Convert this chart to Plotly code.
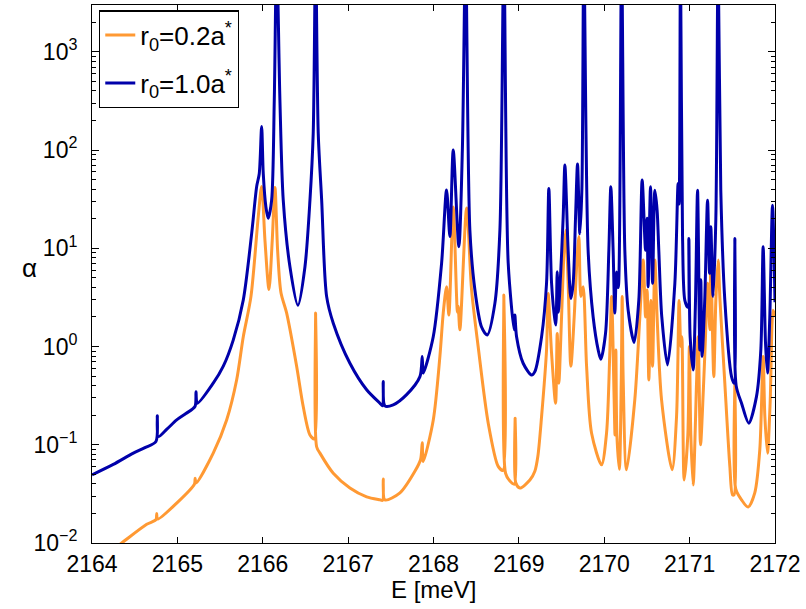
import plotly.graph_objects as go

# ---------------- data ----------------
# r0 = 1.0 a*  (blue)
blue_E = [2164.000, 2164.249, 2164.484, 2164.620, 2164.749, 2164.765, 2164.776, 2164.880, 2164.992, 2165.100,
          2165.206, 2165.218, 2165.233,
          2165.420, 2165.538, 2165.655, 2165.772, 2165.870, 2165.929, 2165.959, 2165.987, 2166.006, 2166.037,
          2166.064, 2166.104, 2166.135, 2166.163, 2166.201, 2166.240, 2166.319, 2166.412, 2166.494, 2166.553,
          2166.591, 2166.619, 2166.650, 2166.690, 2166.748, 2166.826, 2167.021, 2167.217, 2167.372, 2167.404,
          2167.411, 2167.431, 2167.528, 2167.685, 2167.841, 2167.868, 2167.879, 2167.997, 2168.095, 2168.153,
          2168.192, 2168.231, 2168.297, 2168.338, 2168.376, 2168.426, 2168.485, 2168.563, 2168.629, 2168.719,
          2168.778, 2168.824, 2168.875, 2168.945, 2168.953, 2168.973, 2169.050, 2169.149, 2169.187, 2169.266,
          2169.324, 2169.351, 2169.383, 2169.422, 2169.433, 2169.449, 2169.463, 2169.480, 2169.519, 2169.539,
          2169.577, 2169.609, 2169.636, 2169.664, 2169.687, 2169.714, 2169.738, 2169.761, 2169.811, 2169.870,
          2169.929, 2169.960, 2170.015, 2170.054, 2170.077, 2170.104, 2170.124, 2170.144, 2170.165, 2170.203,
          2170.241, 2170.280, 2170.350, 2170.405, 2170.444, 2170.484, 2170.502, 2170.514, 2170.542, 2170.566,
          2170.593, 2170.619, 2170.639, 2170.674, 2170.741, 2170.827, 2170.865, 2170.877, 2170.893, 2170.917,
          2170.944, 2170.979, 2170.991, 2171.006, 2171.041, 2171.067, 2171.093, 2171.119, 2171.131, 2171.146,
          2171.178, 2171.210, 2171.233, 2171.248, 2171.275, 2171.307, 2171.334, 2171.365, 2171.412, 2171.491,
          2171.521, 2171.530, 2171.545, 2171.608, 2171.693, 2171.783, 2171.834, 2171.861, 2171.889, 2171.912,
          2171.939, 2171.971, 2172.000]
blue_alpha = [0.0494, 0.0631, 0.0822, 0.0935, 0.108, 0.197, 0.121, 0.145, 0.179, 0.208,
              0.245, 0.347, 0.265,
              0.424, 0.631, 1.17, 2.98, 14.1, 42.7, 57.5, 174, 57.5, 26.3,
              20.2, 30.9, 324, 1e4, 324, 30.9, 6.46, 2.63, 6.46, 30.9,
              148, 1e4, 148, 30.9, 3.24, 1.73, 0.676, 0.363, 0.265, 0.249,
              0.44, 0.249, 0.255, 0.324, 0.494, 0.794, 0.537, 1.26, 7.08, 39.2,
              13.2, 100, 10.4, 100, 1e4, 15.3, 3.77, 1.58, 1.31, 2.75,
              15.5, 1e4, 7.08, 1.48, 2.09, 1.26, 0.676, 0.513, 0.556, 1.26,
              4.41, 40.7, 4.41, 1.86, 1.66, 5.78, 2.24, 3.77, 20.9, 70.3,
              9.55, 3.09, 4.41, 20.9, 72.1, 14.1, 39.8, 1e4, 9.55, 2.0,
              0.923, 0.741, 1.36, 9.55, 42.4, 9.55, 2.19, 5.75, 3.98, 1e4,
              9.55, 2.35, 1.10, 2.98, 49.5, 9.55, 20.2, 4.07, 42.4, 4.41,
              38.9, 24.5, 9.55, 2.0, 0.65, 4.41, 45.7, 28.2, 1e4, 13.2,
              2.95, 2.51, 12.6, 1.26, 0.578, 2.51, 38.9, 0.923, 4.79, 0.794,
              3.16, 30.9, 5.56, 16.6, 3.24, 20.0, 1e4, 38.9, 2.98, 0.494,
              0.424, 12.6, 0.40, 0.265, 0.166, 0.309, 0.923, 10.4, 1.08, 0.537,
              2.0, 27.5, 2.82]

# r0 = 0.2 a*  (orange)
orange_E = [2164.000, 2164.348, 2164.641, 2164.749, 2164.758, 2164.767, 2164.992, 2165.200, 2165.208, 2165.218,
            2165.420, 2165.577, 2165.694, 2165.772, 2165.862, 2165.947, 2165.987, 2166.026, 2166.073, 2166.111,
            2166.143, 2166.174, 2166.213, 2166.280, 2166.397, 2166.474, 2166.553, 2166.605, 2166.619, 2166.631,
            2166.670, 2166.826, 2167.021, 2167.217, 2167.372, 2167.404, 2167.411, 2167.431, 2167.607, 2167.782,
            2167.849, 2167.868, 2167.879, 2167.997, 2168.075, 2168.114, 2168.153, 2168.180, 2168.231, 2168.280,
            2168.289, 2168.309, 2168.388, 2168.446, 2168.523, 2168.641, 2168.758, 2168.813, 2168.824, 2168.844,
            2168.895, 2168.947, 2168.956, 2168.965, 2169.012, 2169.129, 2169.187, 2169.222, 2169.266, 2169.324,
            2169.343, 2169.383, 2169.430, 2169.449, 2169.468, 2169.500, 2169.530, 2169.550, 2169.577, 2169.609,
            2169.648, 2169.676, 2169.703, 2169.726, 2169.753, 2169.793, 2169.851, 2169.968, 2170.027, 2170.066,
            2170.086, 2170.116, 2170.126, 2170.136, 2170.148, 2170.177, 2170.200, 2170.210, 2170.221, 2170.261,
            2170.358, 2170.417, 2170.456, 2170.484, 2170.502, 2170.522, 2170.546, 2170.566, 2170.593, 2170.619,
            2170.671, 2170.795, 2170.847, 2170.877, 2170.897, 2170.909, 2170.936, 2170.979, 2170.997, 2171.014,
            2171.041, 2171.081, 2171.100, 2171.128, 2171.160, 2171.185, 2171.210, 2171.237, 2171.248, 2171.283,
            2171.307, 2171.334, 2171.354, 2171.412, 2171.471, 2171.502, 2171.521, 2171.530, 2171.540, 2171.608,
            2171.685, 2171.763, 2171.822, 2171.861, 2171.881, 2171.912, 2171.943, 2171.978, 2172.000]
orange_alpha = [0.0059, 0.0100, 0.0155, 0.0173, 0.0200, 0.0175, 0.0255, 0.0398, 0.0457, 0.0407,
                0.0822, 0.179, 0.457, 1.26, 3.24, 20.9, 42.7, 12.0, 3.80, 12.0,
                41.7, 9.55, 3.55, 2.19, 0.631, 0.245, 0.126, 0.115, 2.19, 0.0955,
                0.0822, 0.0513, 0.0363, 0.0295, 0.0275, 0.0272, 0.0447, 0.0275, 0.0324, 0.0537,
                0.0708, 0.105, 0.0676, 0.178, 0.794, 2.19, 4.07, 2.09, 26.3, 2.24,
                2.57, 1.48, 25.7, 3.77, 1.0, 0.166, 0.0603, 0.055, 3.35, 0.0513,
                0.0427, 0.0398, 0.186, 0.0407, 0.0363, 0.0437, 0.0537, 0.0759, 0.194, 0.923,
                3.47, 0.851, 0.265, 1.36, 0.424, 2.0, 9.55, 15.3, 4.41, 0.631,
                2.0, 6.46, 13.2, 3.24, 4.07, 0.631, 0.132, 0.0625, 0.132, 0.923,
                3.24, 0.288, 0.126, 0.923, 0.126, 0.0562, 0.5, 3.24, 0.5, 0.0556,
                0.288, 2.0, 7.59, 2.0, 3.77, 0.457, 2.95, 0.631, 7.59, 2.0,
                0.288, 0.0556, 0.195, 2.95, 1.0, 1.26, 0.0437, 0.126, 1.0, 0.126,
                0.0389, 0.427, 1.26, 0.1, 0.35, 1.2, 4.41, 1.48, 7.59, 0.494,
                2.95, 7.59, 3.16, 0.427, 0.0603, 0.0309, 0.031, 0.427, 0.0355, 0.0275,
                0.0232, 0.0324, 0.0891, 0.794, 0.195, 0.0822, 0.265, 2.34, 2.0]

series_names = ["r<sub>0</sub>=0.2a<sup>*</sup>", "r<sub>0</sub>=1.0a<sup>*</sup>"]
x_ticks = [2164, 2165, 2166, 2167, 2168, 2169, 2170, 2171, 2172]
y_ticks = [0.01, 0.1, 1, 10, 100, 1000]
y_ticktext = ["10<sup>\u22122</sup>", "10<sup>\u22121</sup>", "10<sup>0</sup>",
              "10<sup>1</sup>", "10<sup>2</sup>", "10<sup>3</sup>"]
y_minor = [m * v for v in y_ticks for m in range(2, 10)]

ORANGE = "#FF9933"
BLUE = "#0000AA"
FONT = "Liberation Sans, Arial, Helvetica, sans-serif"

fig = go.Figure()
fig.add_trace(go.Scatter(x=orange_E, y=orange_alpha, mode="lines", name=series_names[0],
                         legendgroup="a",
                         line=dict(color=ORANGE, width=3, shape="spline", smoothing=0.8)))
fig.add_trace(go.Scatter(x=blue_E, y=blue_alpha, mode="lines", name=series_names[1],
                         legendgroup="b",
                         line=dict(color=BLUE, width=3, shape="spline", smoothing=0.8)))

fig.update_layout(
    width=806, height=609,
    margin=dict(l=92, r=31, t=5, b=66),
    paper_bgcolor="white", plot_bgcolor="white",
    font=dict(family=FONT, size=23, color="black"),
    showlegend=True,
    legend=dict(x=0.0102, y=0.99, xanchor="left", yanchor="top",
                bgcolor="white", bordercolor="black", borderwidth=1.3,
                traceorder="grouped", tracegroupgap=11,
                font=dict(family=FONT, size=26, color="black")),
)
fig.update_xaxes(range=[2164, 2172], tickvals=x_ticks, ticktext=[str(v) for v in x_ticks],
                 ticks="inside", ticklen=6, tickcolor="black", showline=True, linecolor="black",
                 linewidth=1, mirror="ticks", showgrid=False, zeroline=False)
fig.update_yaxes(type="log", range=[-2, 3.477], tickvals=y_ticks, ticktext=y_ticktext,
                 ticks="inside", ticklen=7, tickcolor="black", showline=True, linecolor="black",
                 linewidth=1, mirror="ticks", showgrid=False, zeroline=False, ticklabelstandoff=9,
                 minor=dict(tickvals=y_minor, ticks="inside", ticklen=4, tickcolor="black", showgrid=False))

fig.add_annotation(text="E [meV]", xref="paper", yref="paper", x=0.5, y=-0.087,
                   xanchor="center", yanchor="middle", showarrow=False,
                   font=dict(family=FONT, size=24, color="black"))
fig.add_annotation(text="\u03b1", xref="paper", yref="paper", x=-0.091, y=0.511,
                   xanchor="center", yanchor="middle", showarrow=False,
                   font=dict(family=FONT, size=26, color="black"))

fig.write_html("out.html", config={"displayModeBar": False},
               post_script="document.body.style.margin='0';")
